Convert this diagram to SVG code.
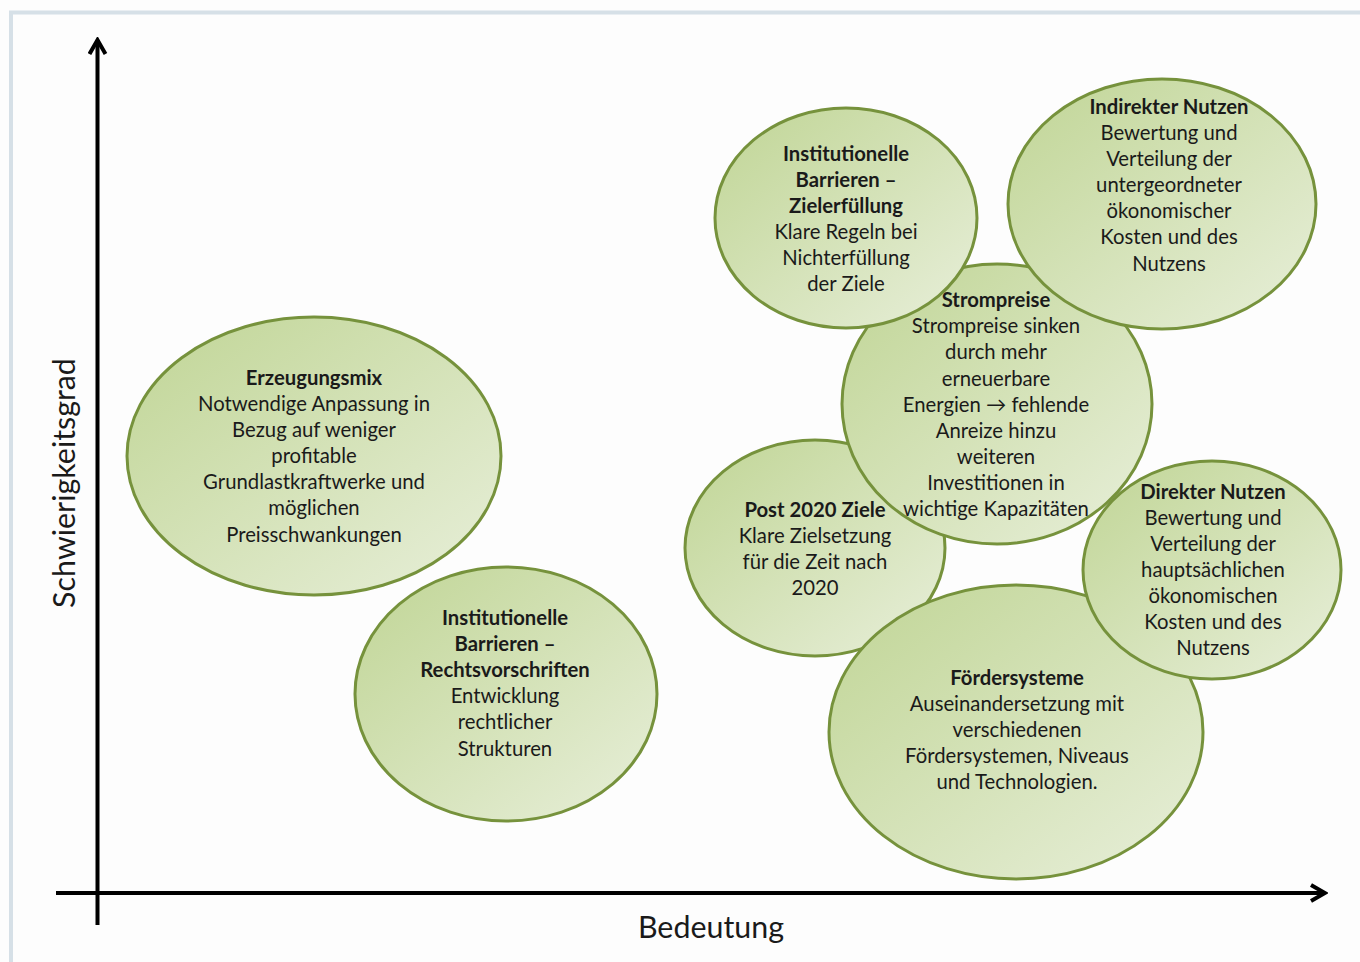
<svg xmlns="http://www.w3.org/2000/svg" width="1360" height="962" viewBox="0 0 1360 962">
  <style>
    .bubble { stroke: #76923c; stroke-width: 3; }
    .t { font-family: Lato, "Open Sans", "Liberation Sans", sans-serif; font-size: 20.3px; fill: #1a1a1a; text-anchor: middle; }
    .b { font-weight: bold; }
    .axis { stroke: #000; stroke-width: 4; fill: none; }
    .axislabel { font-family: Lato, "Open Sans", "Liberation Sans", sans-serif; font-size: 30.4px; fill: #1a1a1a; text-anchor: middle; }
  </style>
  <defs>
    <linearGradient id="greenFill" x1="0" y1="0" x2="1" y2="1">
      <stop offset="0" stop-color="#c0d595"/>
      <stop offset="1" stop-color="#e8efda"/>
    </linearGradient>
    <marker id="chev" viewBox="0 0 20 20" refX="17" refY="10" markerWidth="20" markerHeight="20" markerUnits="userSpaceOnUse" orient="auto">
      <path d="M3,2 L17,10 L3,18" fill="none" stroke="#000" stroke-width="4" stroke-linejoin="miter"/>
    </marker>
  </defs>

  <rect width="1360" height="962" fill="#fdfdfd"/>
  <!-- frame -->
  <rect x="11" y="12.5" width="1360" height="960" fill="none" stroke="#d6e0e7" stroke-width="4"/>

  <!-- axes -->
  <g id="connectors">
    <line class="axis" x1="97.5" y1="925" x2="97.5" y2="40" marker-end="url(#chev)"/>
    <line class="axis" x1="56" y1="893" x2="1325" y2="893" marker-end="url(#chev)"/>
  </g>
  <text class="axislabel" x="711" y="938">Bedeutung</text>
  <text class="axislabel" transform="translate(75 483) rotate(-90)">Schwierigkeitsgrad</text>

  <!-- bubbles -->
  <g id="erzeugungsmix">
    <ellipse class="bubble" cx="314" cy="456" rx="187" ry="139" fill="url(#greenFill)"/>
  </g>
  <g id="rechtsvorschriften">
    <ellipse class="bubble" cx="506" cy="694" rx="151" ry="127" fill="url(#greenFill)"/>
  </g>
  <g id="post2020">
    <ellipse class="bubble" cx="815" cy="548" rx="130" ry="108" fill="url(#greenFill)"/>
  </g>
  <g id="foerdersysteme">
    <ellipse class="bubble" cx="1016" cy="732" rx="187" ry="147" fill="url(#greenFill)"/>
  </g>
  <g id="strompreise">
    <ellipse class="bubble" cx="997" cy="404" rx="155" ry="140" fill="url(#greenFill)"/>
  </g>
  <g id="zielerfuellung">
    <ellipse class="bubble" cx="846" cy="218" rx="131" ry="110" fill="url(#greenFill)"/>
  </g>
  <g id="indirekter-nutzen">
    <ellipse class="bubble" cx="1162" cy="204" rx="154" ry="125" fill="url(#greenFill)"/>
  </g>
  <g id="direkter-nutzen">
    <ellipse class="bubble" cx="1212" cy="570" rx="129" ry="109" fill="url(#greenFill)"/>
  </g>

  <!-- labels -->
  <g id="labels">
    <text class="t" x="314" y="385"><tspan class="b">Erzeugungsmix</tspan><tspan x="314" dy="26">Notwendige Anpassung in</tspan><tspan x="314" dy="26">Bezug auf weniger</tspan><tspan x="314" dy="26">profitable</tspan><tspan x="314" dy="26">Grundlastkraftwerke und</tspan><tspan x="314" dy="26">möglichen</tspan><tspan x="314" dy="26.5">Preisschwankungen</tspan></text>
    <text class="t" x="505" y="625"><tspan class="b">Institutionelle</tspan><tspan class="b" x="505" dy="26">Barrieren –</tspan><tspan class="b" x="505" dy="26">Rechtsvorschriften</tspan><tspan x="505" dy="26">Entwicklung</tspan><tspan x="505" dy="26">rechtlicher</tspan><tspan x="505" dy="26.5">Strukturen</tspan></text>
    <text class="t" x="846" y="161"><tspan class="b">Institutionelle</tspan><tspan class="b" x="846" dy="26">Barrieren –</tspan><tspan class="b" x="846" dy="26">Zielerfüllung</tspan><tspan x="846" dy="26">Klare Regeln bei</tspan><tspan x="846" dy="26">Nichterfüllung</tspan><tspan x="846" dy="26">der Ziele</tspan></text>
    <text class="t" x="1169" y="114"><tspan class="b">Indirekter Nutzen</tspan><tspan x="1169" dy="26">Bewertung und</tspan><tspan x="1169" dy="26">Verteilung der</tspan><tspan x="1169" dy="26">untergeordneter</tspan><tspan x="1169" dy="26">ökonomischer</tspan><tspan x="1169" dy="26">Kosten und des</tspan><tspan x="1169" dy="26.5">Nutzens</tspan></text>
    <text class="t" x="996" y="307"><tspan class="b">Strompreise</tspan><tspan x="996" dy="26">Strompreise sinken</tspan><tspan x="996" dy="26">durch mehr</tspan><tspan x="996" dy="26.5">erneuerbare</tspan><tspan x="996" dy="26">Energien →  fehlende</tspan><tspan x="996" dy="26">Anreize hinzu</tspan><tspan x="996" dy="26">weiteren</tspan><tspan x="996" dy="26">Investitionen in</tspan><tspan x="996" dy="26">wichtige Kapazitäten</tspan></text>
    <text class="t" x="815" y="517"><tspan class="b">Post 2020 Ziele</tspan><tspan x="815" dy="26">Klare Zielsetzung</tspan><tspan x="815" dy="26">für die Zeit nach</tspan><tspan x="815" dy="26">2020</tspan></text>
    <text class="t" x="1213" y="499"><tspan class="b">Direkter Nutzen</tspan><tspan x="1213" dy="26">Bewertung und</tspan><tspan x="1213" dy="26">Verteilung der</tspan><tspan x="1213" dy="26">hauptsächlichen</tspan><tspan x="1213" dy="26">ökonomischen</tspan><tspan x="1213" dy="26">Kosten und des</tspan><tspan x="1213" dy="26">Nutzens</tspan></text>
    <text class="t" x="1017" y="685"><tspan class="b">Fördersysteme</tspan><tspan x="1017" dy="26">Auseinandersetzung mit</tspan><tspan x="1017" dy="26">verschiedenen</tspan><tspan x="1017" dy="26">Fördersystemen, Niveaus</tspan><tspan x="1017" dy="26">und Technologien.</tspan></text>
  </g>
</svg>
